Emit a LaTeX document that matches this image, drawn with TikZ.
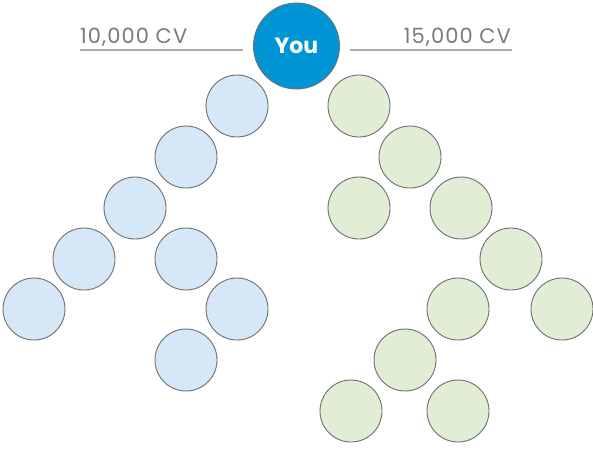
\documentclass[tikz,border=0pt]{standalone}
\usepackage{fontspec}
\setmainfont{Poppins}
\newfontfamily\cvfont[LetterSpace=5]{Poppins}
\usepackage{xcolor}
\usetikzlibrary{positioning}

\definecolor{youblue}{HTML}{0096D6}
\definecolor{leftfill}{HTML}{D6E8F8}
\definecolor{rightfill}{HTML}{E2EDD5}
\definecolor{rimgray}{HTML}{6E6E6E}
\definecolor{cvgray}{HTML}{7A7A7A}

\begin{document}
\begin{tikzpicture}[
	x=1pt, y=-1pt,
	member/.style={circle, draw=rimgray, line width=0.9pt, minimum size=62pt, inner sep=0pt},
	leftleg/.style={member, fill=leftfill},
	rightleg/.style={member, fill=rightfill},
	you/.style={circle, draw=rimgray, line width=0.9pt, fill=youblue, minimum size=86pt, inner sep=0pt,
		text=white, font=\fontsize{22}{24}\selectfont\bfseries},
	cvlabel/.style={text=cvgray, font=\cvfont\fontsize{21}{24}\selectfont, inner sep=0pt},
	cvline/.style={draw=black!33, line width=1.6pt}
	]
	
	\useasboundingbox (0,0) rectangle (593,451);
	
	% You
	\node[you] (You) at (296.5,46) {You};
	
	% Volume labels
	\node[cvlabel, anchor=base west] (LeftCV) at (80,43) {10,000 CV};
	\node[cvlabel, anchor=base east] (RightCV) at (511,43) {15,000 CV};
	\coordinate (LeftA) at (80,50);
	\coordinate (LeftB) at (243,50);
	\coordinate (RightA) at (350,50);
	\coordinate (RightB) at (512,50);
	\draw[cvline] (LeftA) -- (LeftB);
	\draw[cvline] (RightA) -- (RightB);
	
	% Left leg
	\node[leftleg] (L1) at (237,106) {};
	\node[leftleg] (L2) at (186,157) {};
	\node[leftleg] (L3) at (135,208) {};
	\node[leftleg] (L4) at (84,259) {};
	\node[leftleg] (L5) at (186,259) {};
	\node[leftleg] (L6) at (34,309) {};
	\node[leftleg] (L7) at (237,309) {};
	\node[leftleg] (L8) at (186,360) {};
	
	% Right leg
	\node[rightleg] (R1) at (359,106) {};
	\node[rightleg] (R2) at (410,157) {};
	\node[rightleg] (R3) at (359,208) {};
	\node[rightleg] (R4) at (461,208) {};
	\node[rightleg] (R5) at (511,259) {};
	\node[rightleg] (R6) at (458,309) {};
	\node[rightleg] (R7) at (562,309) {};
	\node[rightleg] (R8) at (405,360) {};
	\node[rightleg] (R9) at (351,411) {};
	\node[rightleg] (R10) at (458,411) {};
	
\end{tikzpicture}
\end{document}
